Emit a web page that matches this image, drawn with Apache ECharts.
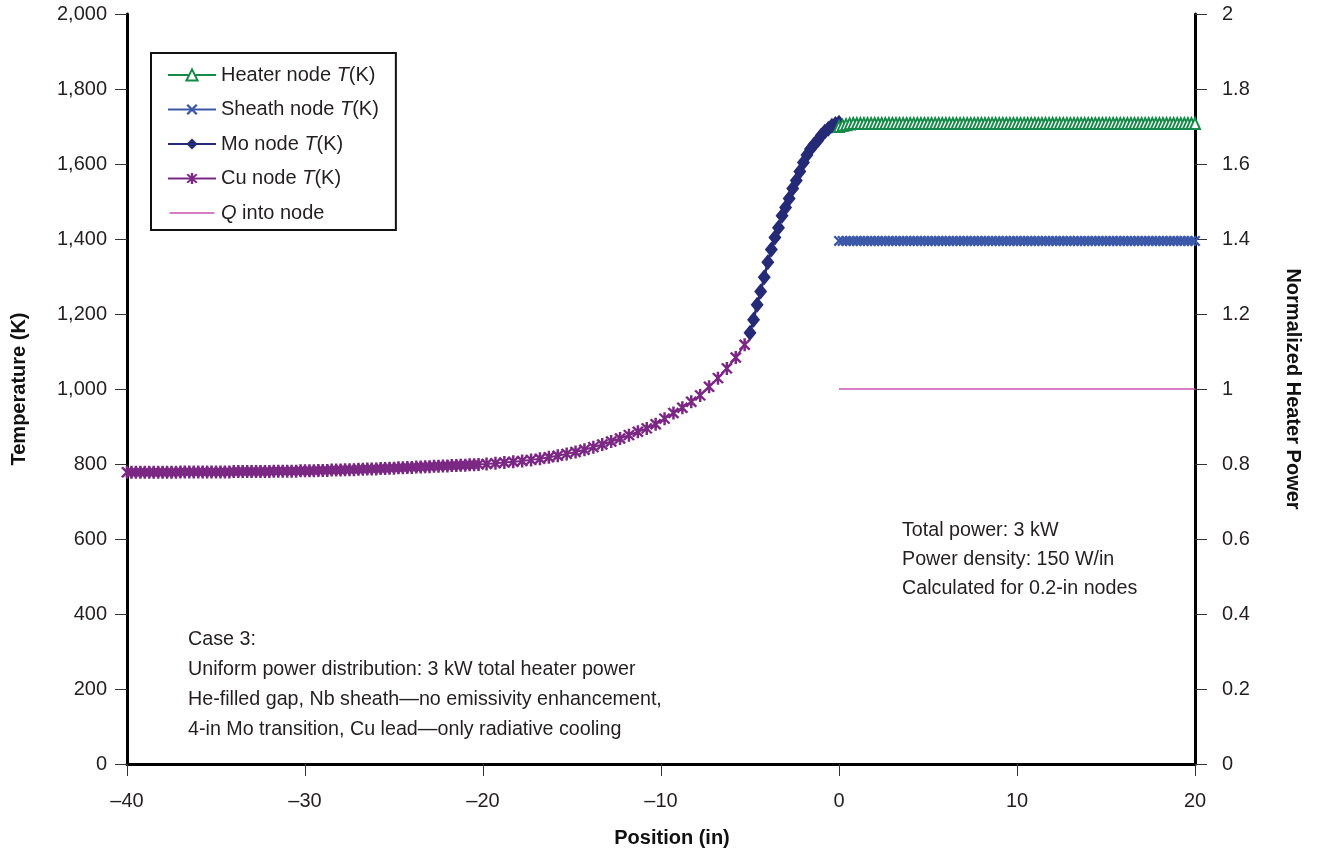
<!DOCTYPE html>
<html><head><meta charset="utf-8">
<script src="https://cdn.jsdelivr.net/npm/echarts@6/dist/echarts.min.js"></script>
<style>html,body{margin:0;padding:0;background:#fff}#c{width:1317px;height:853px}</style>
</head><body><div id="c"></div>
<script>
// Cu node positions (in) and temperatures (K)
const cuX = [-40,-39.75,-39.5,-39.25,-39,-38.75,-38.5,-38.25,-38,-37.75,-37.5,-37.25,-37,-36.75,-36.5,-36.25,-36,-35.75,-35.5,-35.25,
  -35,-34.75,-34.5,-34.25,-34,-33.75,-33.5,-33.25,-33,-32.75,-32.5,-32.25,-32,-31.75,-31.5,-31.25,-31,-30.75,-30.5,-30.25,
  -30,-29.75,-29.5,-29.25,-29,-28.75,-28.5,-28.25,-28,-27.75,-27.5,-27.25,-27,-26.75,-26.5,-26.25,-26,-25.75,-25.5,-25.25,
  -25,-24.75,-24.5,-24.25,-24,-23.75,-23.5,-23.25,-23,-22.75,-22.5,-22.25,-22,-21.75,-21.5,-21.25,-21,-20.75,-20.5,-20.25,
  -19.8,-19.3,-18.8,-18.3,-17.8,-17.3,-16.8,-16.3,-15.8,-15.3,-14.8,-14.3,-13.8,-13.3,-12.8,-12.3,-11.8,-11.3,-10.8,-10.3,
  -9.8,-9.3,-8.8,-8.3,-7.8,-7.3,-6.8,-6.3,-5.8,-5.3];
const cuT = [778,778,778,778,778,778,778,778,778,778,778,778,779,779,779,779,779,779,779,779,
  779,779,779,779,780,780,780,780,780,780,780,780,780,781,781,781,781,781,781,782,
  782,782,782,783,783,783,784,784,784,785,785,785,786,786,787,787,787,788,788,789,
  789,790,790,791,791,792,792,793,793,794,794,795,795,796,796,797,797,798,798,799,
  800,802,804,806,808,811,814,818,822,827,832,838,845,852,860,868,877,886,895,906,
  921,936,950,966,983,1006,1029,1055,1084,1118];
// Mo node positions (in) and temperatures (K)
const moX = [-5,-4.8,-4.6,-4.4,-4.2,-4,-3.8,-3.6,-3.4,-3.2,-3,-2.8,-2.6,-2.4,-2.2,-2,-1.8,-1.6,-1.4,-1.2,-1,-0.8,-0.6,-0.4,-0.2,0];
const moT = [1150,1185,1225,1260,1298,1338,1372,1404,1430,1462,1484,1508,1535,1556,1580,1604,1624,1640,1652,1663,1676,1686,1694,1702,1707,1710];
// Heater-section nodes (0.2-in spacing, 0 to 20 in)
const nodeX = Array.from({length: 101}, (_, i) => +(i * 0.2).toFixed(1));
const heaterT = [1700,1703,1705,1707,1708,1708,1708,1708,1708,1708,
  1708,1708,1708,1708,1708,1708,1708,1708,1708,1708,
  1708,1708,1708,1708,1708,1708,1708,1708,1708,1708,
  1708,1708,1708,1708,1708,1708,1708,1708,1708,1708,
  1708,1708,1708,1708,1708,1708,1708,1708,1708,1708,
  1708,1708,1708,1708,1708,1708,1708,1708,1708,1708,
  1708,1708,1708,1708,1708,1708,1708,1708,1708,1708,
  1708,1708,1708,1708,1708,1708,1708,1708,1708,1708,
  1708,1708,1708,1708,1708,1708,1708,1708,1708,1708,
  1708,1708,1708,1708,1708,1708,1708,1708,1708,1708,
  1708];
const sheathT = [1395,1395,1395,1395,1395,1395,1395,1395,1395,1395,
  1395,1395,1395,1395,1395,1395,1395,1395,1395,1395,
  1395,1395,1395,1395,1395,1395,1395,1395,1395,1395,
  1395,1395,1395,1395,1395,1395,1395,1395,1395,1395,
  1395,1395,1395,1395,1395,1395,1395,1395,1395,1395,
  1395,1395,1395,1395,1395,1395,1395,1395,1395,1395,
  1395,1395,1395,1395,1395,1395,1395,1395,1395,1395,
  1395,1395,1395,1395,1395,1395,1395,1395,1395,1395,
  1395,1395,1395,1395,1395,1395,1395,1395,1395,1395,
  1395,1395,1395,1395,1395,1395,1395,1395,1395,1395,
  1395];
const qX = [0, 20];
const qV = [1, 1];
const seriesNames = ['Heater node T(K)', 'Sheath node T(K)', 'Mo node T(K)', 'Cu node T(K)', 'Q into node'];
const xTicks = {min: -40, max: 20, interval: 10};
const yTicks = {min: 0, max: 2000, interval: 200};
const y2Ticks = {min: 0, max: 2, interval: 0.2};
const notesCase = ['Case 3:', 'Uniform power distribution: 3 kW total heater power',
  'He-filled gap, Nb sheath\u2014no emissivity enhancement,', '4-in Mo transition, Cu lead\u2014only radiative cooling'];
const notesPower = ['Total power: 3 kW', 'Power density: 150 W/in', 'Calculated for 0.2-in nodes'];

const zip = (a, b) => a.map((v, i) => [v, b[i]]);
const FONT = 'Liberation Sans';
const TXT = '#231f20';
const FS = 20;
const NFS = 19.7;
const asterisk = 'path://M-1.6,10 L1.6,10 L1.6,-10 L-1.6,-10 Z M5.2,8.69 L7.66,6.63 L-5.2,-8.69 L-7.66,-6.63 Z M-7.66,6.63 L-5.2,8.69 L7.66,-6.63 L5.2,-8.69 Z';
const xMark = 'path://M5.8,8.34 L8.34,5.8 L-5.8,-8.34 L-8.34,-5.8 Z M-8.34,5.8 L-5.8,8.34 L8.34,-5.8 L5.8,-8.34 Z';
const lineIcon = 'path://M0,0 L0,0.01 L0.01,0 Z M0,6.2 L45,6.2 L45,7.8 L0,7.8 Z M45,14 L45,13.99 L44.99,14 Z';

const legendFmt = {
  'Heater node T(K)': '{n|Heater node }{i|T}{n|(K)}',
  'Sheath node T(K)': '{n|Sheath node }{i|T}{n|(K)}',
  'Mo node T(K)': '{n|Mo node }{i|T}{n|(K)}',
  'Cu node T(K)': '{n|Cu node }{i|T}{n|(K)}',
  'Q into node': '{i|Q}{n| into node}'
};

const axisCommon = {
  axisLine: {show: true, onZero: false, lineStyle: {color: '#000', width: 3}},
  axisTick: {show: true, inside: false, length: 12, lineStyle: {color: '#333', width: 1}},
  splitLine: {show: false},
  axisLabel: {fontFamily: FONT, fontSize: FS, color: TXT},
  nameTextStyle: {fontFamily: FONT, fontWeight: 'bold', fontSize: 20, color: '#111'}
};

const chart = echarts.init(document.getElementById('c'), null, {renderer: 'canvas'});
chart.setOption({
  animation: false,
  backgroundColor: '#fff',
  grid: {left: 127, right: 122, top: 14, bottom: 87},
  legend: {
    orient: 'vertical', left: 151, top: 53,
    padding: [12, 17, 7, 16], itemGap: 14.5, itemWidth: 48, itemHeight: 14,
    borderColor: '#111', borderWidth: 2,
    data: seriesNames.map(n => n === 'Q into node' ? {name: n, icon: lineIcon} : n),
    formatter: n => legendFmt[n],
    textStyle: {fontFamily: FONT, fontSize: FS, color: TXT,
      rich: {n: {fontFamily: FONT, fontSize: FS, color: TXT}, i: {fontFamily: FONT, fontSize: FS, fontStyle: 'italic', color: TXT}}}
  },
  xAxis: Object.assign({}, axisCommon, {
    type: 'value', min: xTicks.min, max: xTicks.max, interval: xTicks.interval,
    name: 'Position (in)', nameLocation: 'middle', nameGap: 64,
    nameTextStyle: Object.assign({}, axisCommon.nameTextStyle, {padding: [0, 0, 0, 22]}),
    axisLabel: Object.assign({}, axisCommon.axisLabel, {margin: 27, formatter: v => String(v).replace('-', '\u2013')})
  }),
  yAxis: [
    Object.assign({}, axisCommon, {
      type: 'value', min: yTicks.min, max: yTicks.max, interval: yTicks.interval,
      name: 'Temperature (K)', nameLocation: 'middle', nameGap: 98, nameRotate: 90,
      axisLabel: Object.assign({}, axisCommon.axisLabel, {margin: 20, formatter: v => v.toLocaleString('en-US')})
    }),
    Object.assign({}, axisCommon, {
      type: 'value', position: 'right', min: y2Ticks.min, max: y2Ticks.max, interval: y2Ticks.interval,
      name: 'Normalized Heater Power', nameLocation: 'middle', nameGap: 88, nameRotate: -90,
      axisLabel: Object.assign({}, axisCommon.axisLabel, {margin: 27, formatter: v => String(Math.round(v * 10) / 10)})
    })
  ],
  series: [
    {name: seriesNames[3], type: 'line', data: zip(cuX, cuT), clip: false, z: 2,
      symbol: asterisk, symbolSize: [12, 13], color: '#7b2884',
      itemStyle: {color: '#7b2884'}, lineStyle: {color: '#7b2884', width: 2}},
    {name: seriesNames[2], type: 'line', data: zip(moX, moT), clip: false, z: 3,
      symbol: 'diamond', symbolSize: [13, 16], color: '#242a76',
      itemStyle: {color: '#242a76'}, lineStyle: {color: '#242a76', width: 2.5}},
    {name: seriesNames[0], type: 'line', data: zip(nodeX, heaterT), clip: false, z: 4,
      symbol: 'emptyTriangle', symbolSize: [10, 11], color: '#168a48',
      itemStyle: {color: '#168a48', borderWidth: 2.2}, lineStyle: {color: '#168a48', width: 2}},
    {name: seriesNames[1], type: 'line', data: zip(nodeX, sheathT), clip: false, z: 4,
      symbol: xMark, symbolSize: 11, color: '#3b58a8',
      itemStyle: {color: '#3b58a8'}, lineStyle: {color: '#3b58a8', width: 2}},
    {name: seriesNames[4], type: 'line', yAxisIndex: 1, data: zip(qX, qV), clip: false, z: 2,
      symbol: 'none', color: '#c855b0', lineStyle: {color: '#c855b0', width: 1.5}}
  ],
  graphic: [
    {type: 'text', left: 188, top: 624, z: 10,
      style: {text: notesCase.join('\n'), font: NFS + 'px "Liberation Sans"', fill: TXT, lineHeight: 30.3}},
    {type: 'text', left: 902, top: 516, z: 10,
      style: {text: notesPower.join('\n'), font: NFS + 'px "Liberation Sans"', fill: TXT, lineHeight: 29}}
  ]
});
</script></body></html>
